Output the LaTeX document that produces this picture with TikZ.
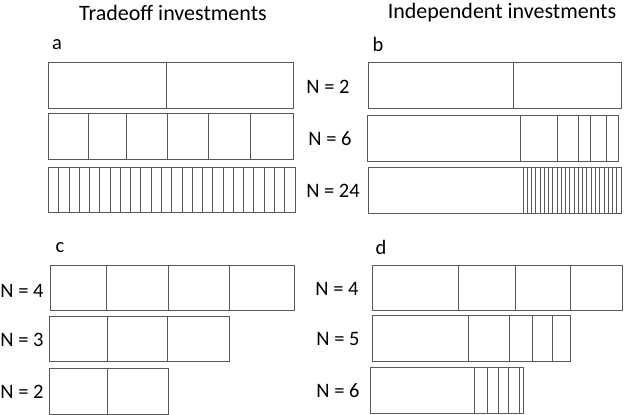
\documentclass[tikz,border=0pt]{standalone}
\usepackage{fontspec}
\setmainfont{Carlito}
\begin{document}
\begin{tikzpicture}[x=1pt,y=-1pt,
  cell/.style={draw=black!65,line width=0.9pt},
  lbl/.style={font=\fontsize{20.5}{24}\selectfont,inner sep=0pt},
  ttl/.style={font=\fontsize{22}{26}\selectfont,inner sep=0pt}]
\useasboundingbox (0,0) rectangle (624,415);
\fill[white] (0,0) rectangle (624,415);
\node[ttl] (t1) at (173,13) {Tradeoff investments};
\node[ttl] (t2) at (502,13) {Independent investments};
\node[lbl] (la) at (57,45) {a};
\node[lbl] (lb) at (378,44) {b};
\node[lbl] (lc) at (60,248) {c};
\node[lbl] (ld) at (381,247) {d};
% panel a
\draw[cell] (48.5,62) rectangle (293,108);
\draw[cell] (166,62) -- (166,108);
\draw[cell] (48.5,113) rectangle (293,159);
\foreach \x in {88,126,167,208.5,250} \draw[cell] (\x,113) -- (\x,159);
\draw[cell] (48.5,167) rectangle (295,212);
\foreach \i in {1,...,23} \draw[cell] ({48.5+\i*246.5/24},167) -- ({48.5+\i*246.5/24},212);
% panel b
\draw[cell] (368.5,62) rectangle (621,108);
\draw[cell] (513,62) -- (513,108);
\draw[cell] (367.5,115) rectangle (618.5,161);
\foreach \x in {520,557,578.5,590.5,606} \draw[cell] (\x,115) -- (\x,161);
\draw[cell] (368.5,167) rectangle (621,213);
\foreach \i in {0,...,22} \draw[cell] ({523+\i*98/23},167) -- ({523+\i*98/23},213);
\node[lbl] (n2) at (328,87) {N = 2};
\node[lbl] (n6) at (330,139) {N = 6};
\node[lbl] (n24) at (333,191) {N = 24};
% panel c
\draw[cell] (50,265) rectangle (294,310);
\foreach \x in {106.5,168.5,229.5} \draw[cell] (\x,265) -- (\x,310);
\draw[cell] (49,316) rectangle (229.5,361);
\foreach \x in {107.5,167.5} \draw[cell] (\x,316) -- (\x,361);
\draw[cell] (49,368) rectangle (168.5,414);
\draw[cell] (107.5,368) -- (107.5,414);
\node[lbl] (c4) at (22,291) {N = 4};
\node[lbl] (c3) at (22,340) {N = 3};
\node[lbl] (c2) at (22,392) {N = 2};
% panel d
\draw[cell] (372,265) rectangle (622,310);
\foreach \x in {458.5,515,570} \draw[cell] (\x,265) -- (\x,310);
\draw[cell] (372,315) rectangle (570,361);
\foreach \x in {468,509.5,532,552.5} \draw[cell] (\x,315) -- (\x,361);
\draw[cell] (370.5,367) rectangle (523,413);
\foreach \x in {474.5,487.5,498,508,519} \draw[cell] (\x,367) -- (\x,413);
\node[lbl] (d4) at (337,289) {N = 4};
\node[lbl] (d5) at (338,339) {N = 5};
\node[lbl] (d6) at (338,391) {N = 6};
\end{tikzpicture}
\end{document}
